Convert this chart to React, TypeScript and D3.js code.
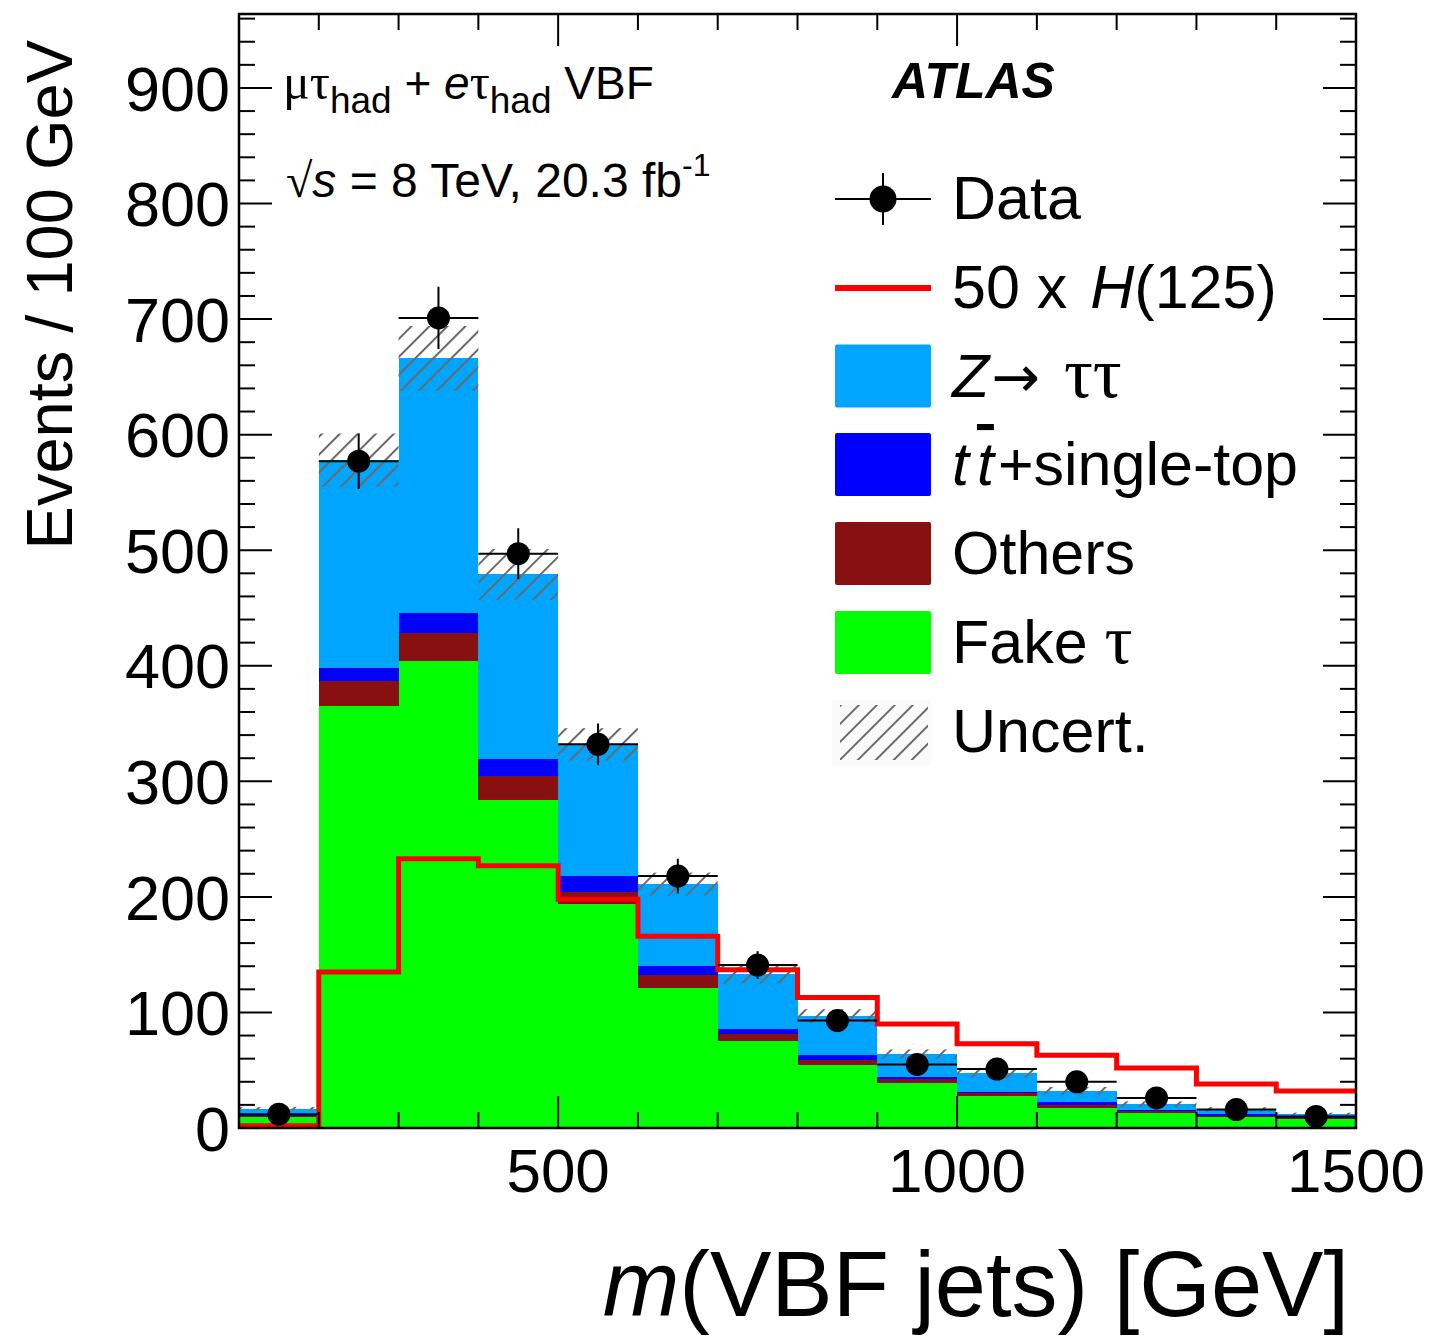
import * as d3 from "d3";
import { useEffect, useRef } from "react";

// bins of m(VBF jets), lower edges in GeV (width 100)
const binLow = [100, 200, 300, 400, 500, 600, 700, 800, 900, 1000, 1100, 1200, 1300, 1400];
const binWidth = 100;

// stacked backgrounds, bottom to top
const fakeTau = [9.5, 365, 404, 284, 194, 121, 75, 54.5, 39, 27.7, 17, 13.3, 9.2, 7.5];
const others = [1.2, 22, 24, 21, 10, 11, 6, 4.3, 3, 2.3, 3, 1.4, 1.5, 1.5];
const ttbar = [1, 11, 18, 14, 14, 8, 5, 4, 2, 1.4, 2.5, 0.9, 1.1, 1.4];
const ztautau = [5, 180, 220, 160, 114, 71, 47, 34, 20, 16, 9.5, 5, 4.2, 1.4];
const uncert = [1.5, 23, 28, 22, 14, 10, 8, 6, 4, 4, 3.5, 2.5, 2, 1.5];

const dataCounts = [12, 577, 701, 497, 332, 218, 141, 93, 55, 51, 40, 26, 16, 10];
const dataErr = [3.5, 24, 27, 22, 18, 15, 12, 10, 7.5, 7, 6.3, 5, 4, 3.2];

const signal50 = [2, 135, 233, 227, 198, 166, 137, 113, 90, 73, 63, 52, 38, 32];

const xTicks = [100, 200, 300, 400, 500, 600, 700, 800, 900, 1000, 1100, 1200, 1300, 1400, 1500];
const xMajor = [500, 1000, 1500];
const yLabels = [0, 100, 200, 300, 400, 500, 600, 700, 800, 900];

const colors = {
  z: "#00a5ff",
  tt: "#0000ff",
  others: "#881010",
  fake: "#00ff00",
  signal: "#ff0000",
};

const FONT = "'Liberation Sans', Arial, Helvetica, sans-serif";
const SERIF = "'Liberation Serif', 'Times New Roman', serif";

export default function App() {
  const svgRef = useRef<SVGSVGElement>(null);
  const width = 1433;
  const height = 1338;

  useEffect(() => {
    if (!svgRef.current) return;
    const svg = d3.select(svgRef.current);
    svg.selectAll("*").remove();

    const left = 239;
    const right = 1356;
    const top = 14;
    const bottom = 1128;

    const x = d3.scaleLinear().domain([100, 1500]).range([left, right]);
    const y = d3.scaleLinear().domain([0, 964]).range([bottom, top]);

    // hatch pattern
    const defs = svg.append("defs");
    const pat = defs
      .append("pattern")
      .attr("id", "hatch")
      .attr("patternUnits", "userSpaceOnUse")
      .attr("width", 12.7)
      .attr("height", 12.7)
      .attr("patternTransform", "rotate(45)");
    pat
      .append("line")
      .attr("x1", 1)
      .attr("y1", 0)
      .attr("x2", 1)
      .attr("y2", 12.7)
      .attr("stroke", "#6a6a6a")
      .attr("stroke-width", 2);

    defs
      .append("clipPath")
      .attr("id", "plotclip")
      .append("rect")
      .attr("x", left)
      .attr("y", top)
      .attr("width", right - left)
      .attr("height", bottom - top);

    const plot = svg.append("g").attr("clip-path", "url(#plotclip)");

    // stack
    const layers = [
      { vals: fakeTau, color: colors.fake },
      { vals: others, color: colors.others },
      { vals: ttbar, color: colors.tt },
      { vals: ztautau, color: colors.z },
    ];
    const base = binLow.map(() => 0);
    layers.forEach((layer) => {
      const lows = base.slice();
      layer.vals.forEach((v, i) => (base[i] += v));
      plot
        .append("g")
        .selectAll("rect")
        .data(binLow)
        .enter()
        .append("rect")
        .attr("x", (d) => x(d))
        .attr("width", (d) => x(d + binWidth) - x(d))
        .attr("y", (_, i) => y(base[i]))
        .attr("height", (_, i) => y(lows[i]) - y(base[i]))
        .attr("fill", layer.color)
        .attr("shape-rendering", "crispEdges");
    });
    const totals = base.slice();

    // uncertainty band
    plot
      .append("g")
      .selectAll("rect")
      .data(binLow)
      .enter()
      .append("rect")
      .attr("x", (d) => x(d))
      .attr("width", (d) => x(d + binWidth) - x(d))
      .attr("y", (_, i) => y(totals[i] + uncert[i]))
      .attr("height", (_, i) => y(totals[i] - uncert[i]) - y(totals[i] + uncert[i]))
      .attr("fill", "url(#hatch)");

    // signal x50 step line
    const stepPts: [number, number][] = [];
    binLow.forEach((d, i) => {
      stepPts.push([d, signal50[i]]);
      stepPts.push([d + binWidth, signal50[i]]);
    });
    plot
      .append("path")
      .datum(stepPts)
      .attr("fill", "none")
      .attr("stroke", colors.signal)
      .attr("stroke-width", 5)
      .attr(
        "d",
        d3
          .line<[number, number]>()
          .x((d) => x(d[0]))
          .y((d) => y(d[1]))
      );

    // axes frame + ticks
    const axes = svg.append("g").attr("stroke", "#000");
    axes
      .append("rect")
      .attr("x", left)
      .attr("y", top)
      .attr("width", right - left)
      .attr("height", bottom - top)
      .attr("fill", "none")
      .attr("stroke-width", 2.5);

    xTicks.forEach((t) => {
      const len = xMajor.includes(t) ? 32 : 16;
      axes
        .append("line")
        .attr("x1", x(t))
        .attr("x2", x(t))
        .attr("y1", bottom)
        .attr("y2", bottom - len)
        .attr("stroke-width", 2);
      axes
        .append("line")
        .attr("x1", x(t))
        .attr("x2", x(t))
        .attr("y1", top)
        .attr("y2", top + len)
        .attr("stroke-width", 2);
    });

    d3.range(0, 961, 20).forEach((t) => {
      const len = t % 100 === 0 ? 33 : 16;
      axes
        .append("line")
        .attr("x1", left)
        .attr("x2", left + len)
        .attr("y1", y(t))
        .attr("y2", y(t))
        .attr("stroke-width", 2);
      axes
        .append("line")
        .attr("x1", right)
        .attr("x2", right - len)
        .attr("y1", y(t))
        .attr("y2", y(t))
        .attr("stroke-width", 2);
    });

    // data points
    const dataG = svg.append("g");
    binLow.forEach((d, i) => {
      const cx = x(d + binWidth / 2);
      const cy = y(dataCounts[i]);
      dataG
        .append("line")
        .attr("x1", x(d))
        .attr("x2", x(d + binWidth))
        .attr("y1", cy)
        .attr("y2", cy)
        .attr("stroke", "#000")
        .attr("stroke-width", 2);
      dataG
        .append("line")
        .attr("x1", cx)
        .attr("x2", cx)
        .attr("y1", y(dataCounts[i] + dataErr[i]))
        .attr("y2", y(dataCounts[i] - dataErr[i]))
        .attr("stroke", "#000")
        .attr("stroke-width", 2);
      dataG.append("circle").attr("cx", cx).attr("cy", cy).attr("r", 11.5).attr("fill", "#000");
    });

    // tick labels
    const labels = svg.append("g").style("font-family", FONT).attr("fill", "#000");
    yLabels.forEach((t) => {
      labels
        .append("text")
        .attr("x", 230)
        .attr("y", y(t))
        .attr("dy", "0.36em")
        .attr("text-anchor", "end")
        .style("font-size", "63px")
        .text(t);
    });
    xMajor.forEach((t) => {
      labels
        .append("text")
        .attr("x", x(t))
        .attr("y", 1192)
        .attr("text-anchor", "middle")
        .style("font-size", "62px")
        .text(t);
    });

    // axis titles
    labels
      .append("text")
      .attr("transform", "translate(72,40) rotate(-90)")
      .attr("text-anchor", "end")
      .style("font-size", "65px")
      .text("Events / 100 GeV");

    const xt = labels
      .append("text")
      .attr("x", 1349)
      .attr("y", 1316)
      .attr("text-anchor", "end")
      .style("font-size", "92px");
    xt.append("tspan").style("font-style", "italic").text("m");
    xt.append("tspan").text("(VBF jets) [GeV]");

    // channel label
    const ch = labels.append("text").attr("x", 283).attr("y", 99).style("font-size", "46px");
    ch.append("tspan").style("font-family", SERIF).style("font-size", "50px").text("μτ");
    ch.append("tspan").attr("dy", 14).style("font-size", "37px").text("had");
    ch.append("tspan").attr("dy", -14).text(" + ");
    ch.append("tspan").style("font-style", "italic").text("e");
    ch.append("tspan").style("font-family", SERIF).style("font-size", "50px").text("τ");
    ch.append("tspan").attr("dy", 14).style("font-size", "37px").text("had");
    ch.append("tspan").attr("dy", -14).text(" VBF");

    const en = labels.append("text").attr("x", 286).attr("y", 197).style("font-size", "48px");
    en.append("tspan").style("font-family", SERIF).style("font-weight", "300").text("√");
    en.append("tspan").style("font-style", "italic").text("s");
    en.append("tspan").text(" = 8 TeV, 20.3 fb");
    en.append("tspan").attr("dy", -21).style("font-size", "32px").text("-1");

    labels
      .append("text")
      .attr("x", 892)
      .attr("y", 98)
      .style("font-size", "50px")
      .style("font-weight", "bold")
      .style("font-style", "italic")
      .text("ATLAS");

    // legend
    const leg = svg.append("g");
    const rowY = [199, 288, 376.5, 465, 554, 643, 732];
    const lx0 = 835;
    const lx1 = 931;
    const tx = 952;

    // Data
    leg.append("line").attr("x1", lx0).attr("x2", lx1).attr("y1", rowY[0]).attr("y2", rowY[0]).attr("stroke", "#000").attr("stroke-width", 2);
    leg.append("line").attr("x1", 883).attr("x2", 883).attr("y1", rowY[0] - 26).attr("y2", rowY[0] + 26).attr("stroke", "#000").attr("stroke-width", 2);
    leg.append("circle").attr("cx", 883).attr("cy", rowY[0]).attr("r", 13.5).attr("fill", "#000");
    // signal
    leg.append("line").attr("x1", lx0).attr("x2", lx1).attr("y1", rowY[1]).attr("y2", rowY[1]).attr("stroke", colors.signal).attr("stroke-width", 6);
    // boxes
    [colors.z, colors.tt, colors.others, colors.fake].forEach((c, i) => {
      leg
        .append("rect")
        .attr("x", lx0)
        .attr("y", rowY[i + 2] - 32)
        .attr("width", lx1 - lx0)
        .attr("height", 63)
        .attr("rx", 2)
        .attr("fill", c);
    });
    leg.append("rect").attr("x", 832).attr("y", rowY[6] - 32).attr("width", 99).attr("height", 66).attr("fill", "#fafafa");
    leg.append("rect").attr("x", 840).attr("y", rowY[6] - 27).attr("width", 88).attr("height", 55).attr("fill", "url(#hatch)");

    const lt = leg.append("g").style("font-family", FONT).style("font-size", "61px").attr("fill", "#000");
    const txt = (i: number) => lt.append("text").attr("x", tx).attr("y", rowY[i] + 20);
    txt(0).text("Data");
    const s1 = txt(1);
    s1.append("tspan").text("50 x ");
    s1.append("tspan").attr("dx", 6).style("font-style", "italic").text("H");
    s1.append("tspan").text("(125)");
    const s2 = txt(2);
    s2.append("tspan").style("font-style", "italic").text("Z");
    s2.append("tspan").attr("dx", 2).style("font-family", "'DejaVu Sans', sans-serif").style("font-size", "58px").text("→");
    s2.append("tspan").attr("dx", 24).style("font-family", SERIF).style("font-size", "72px").text("ττ");
    const s3 = txt(3);
    s3.append("tspan").style("font-style", "italic").text("t");
    s3.append("tspan").attr("dx", 8).style("font-style", "italic").style("text-decoration", "overline").text("t");
    s3.append("tspan").attr("dx", 4).text("+single-top");
    txt(4).text("Others");
    const s5 = txt(5);
    s5.append("tspan").text("Fake ");
    s5.append("tspan").style("font-family", SERIF).style("font-size", "70px").text("τ");
    txt(6).text("Uncert.");
  }, []);

  return (
    <div style={{ position: "absolute", left: 0, top: 0 }}>
      <svg ref={svgRef} width={width} height={height} style={{ display: "block", background: "#fff" }} />
    </div>
  );
}
